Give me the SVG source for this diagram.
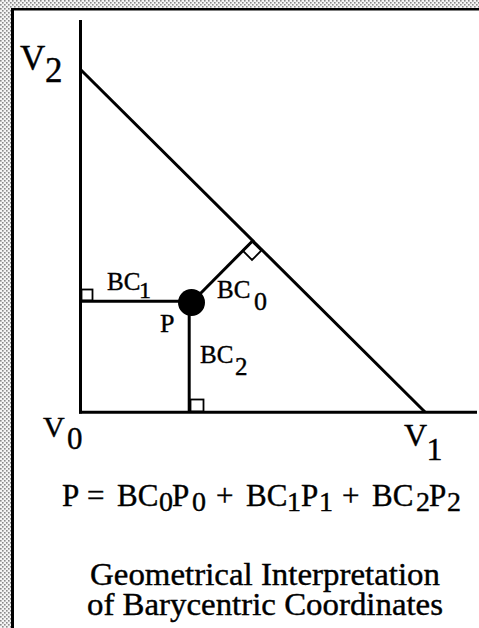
<svg xmlns="http://www.w3.org/2000/svg" width="479" height="628" viewBox="0 0 479 628">
<defs>
<pattern id="stip" width="4" height="4" patternUnits="userSpaceOnUse">
<rect width="4" height="4" fill="#f4f4f4"/>
<rect x="0" y="0" width="1.6" height="1.6" fill="#8a8a8a"/>
<rect x="2" y="2" width="1.6" height="1.6" fill="#8a8a8a"/>
</pattern>
</defs>
<style>
.ln{stroke:#000;stroke-width:3;fill:none;stroke-linecap:butt}
.sq{stroke:#000;stroke-width:1.8;fill:none}
.t{font-family:"Liberation Serif","Times New Roman",serif;fill:#000;stroke:#000;stroke-width:0.4}
</style>
<rect width="479" height="628" fill="#fff"/>
<g id="frame">
<rect x="0" y="0" width="11" height="628" fill="url(#stip)"/>
<rect x="0" y="0" width="479" height="8" fill="url(#stip)"/>
<line x1="12.5" y1="8" x2="12.5" y2="628" stroke="#000" stroke-width="3"/>
<line x1="11" y1="9.3" x2="479" y2="9.3" stroke="#000" stroke-width="2.5"/>
</g>
<g id="connectors">
<line class="ln" x1="80.5" y1="20" x2="80.5" y2="413.5"/>
<line class="ln" x1="79" y1="412.2" x2="477" y2="412.2"/>
<line class="ln" x1="80.5" y1="69.5" x2="425" y2="412"/>
<line class="ln" x1="80.5" y1="301.3" x2="191" y2="301.3"/>
<line class="ln" x1="189.2" y1="302" x2="189.2" y2="412"/>
<line class="ln" x1="191.5" y1="302.5" x2="252" y2="241.5"/>
<rect class="sq" x="81.5" y="289.5" width="11" height="11"/>
<rect class="sq" x="190.5" y="399.5" width="13" height="12"/>
<polygon class="sq" points="252,241.5 242.8,250.7 252,259.9 261.2,250.7"/>
</g>
<g id="node-P">
<circle cx="191.5" cy="302.5" r="13.5" fill="#000"/>
<text class="t" x="160" y="332" font-size="26">P</text>
</g>
<g id="node-V2">
<text class="t" font-size="35"><tspan x="20" y="70">V</tspan><tspan x="45" y="82">2</tspan></text>
</g>
<g id="node-V0">
<text class="t" font-size="30"><tspan x="43" y="437">V</tspan><tspan x="67" y="449" font-size="31">0</tspan></text>
</g>
<g id="node-V1">
<text class="t" font-size="32"><tspan x="404" y="446">V</tspan><tspan x="426.5" y="460">1</tspan></text>
</g>
<g id="label-BC1">
<text class="t" font-size="25"><tspan x="107" y="290">BC</tspan><tspan x="139" y="298" font-size="24">1</tspan></text>
</g>
<g id="label-BC0">
<text class="t" font-size="25"><tspan x="217" y="298">BC</tspan><tspan x="254" y="310" font-size="26">0</tspan></text>
</g>
<g id="label-BC2">
<text class="t" font-size="25"><tspan x="200" y="363">BC</tspan><tspan x="235" y="375">2</tspan></text>
</g>
<g id="formula">
<text class="t" font-size="31"><tspan x="62" y="506">P</tspan><tspan x="87" y="506">=</tspan><tspan x="117" y="506">BC</tspan><tspan x="159" y="511" font-size="28">0</tspan><tspan x="172" y="506">P</tspan><tspan x="192" y="511" font-size="28">0</tspan><tspan x="216" y="506">+</tspan><tspan x="246" y="506">BC</tspan><tspan x="287" y="511" font-size="28">1</tspan><tspan x="301" y="506">P</tspan><tspan x="319" y="511" font-size="28">1</tspan><tspan x="342" y="506">+</tspan><tspan x="372" y="506">BC</tspan><tspan x="416" y="511" font-size="28">2</tspan><tspan x="429" y="506">P</tspan><tspan x="447" y="511" font-size="28">2</tspan></text>
</g>
<g id="title">
<text class="t" font-size="32" text-anchor="middle"><tspan x="265" y="585" textLength="350" lengthAdjust="spacingAndGlyphs">Geometrical Interpretation</tspan><tspan x="265" y="615" textLength="356" lengthAdjust="spacingAndGlyphs">of Barycentric Coordinates</tspan></text>
</g>
</svg>
